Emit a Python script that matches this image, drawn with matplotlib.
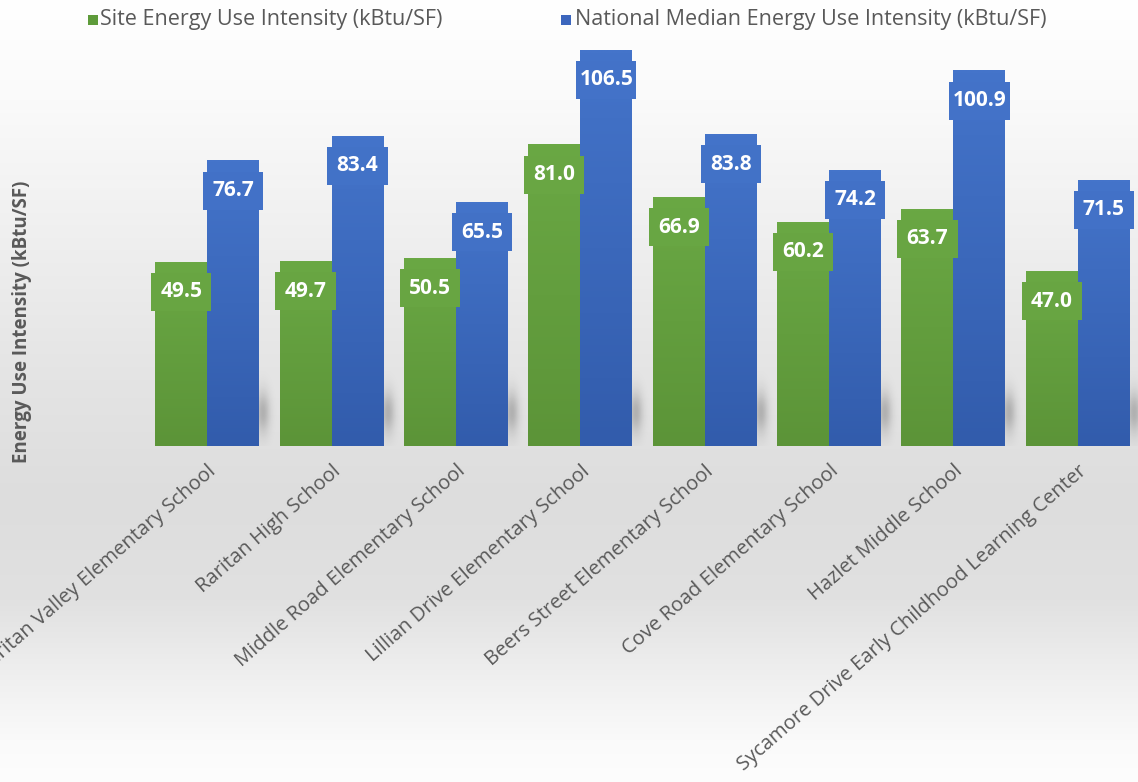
import numpy as np
import matplotlib
matplotlib.use("Agg")
from matplotlib import pyplot as plt
from matplotlib.patches import Rectangle
import matplotlib.transforms as mtransforms

schools = [
    "Raritan Valley Elementary School",
    "Raritan High School",
    "Middle Road Elementary School",
    "Lillian Drive Elementary School",
    "Beers Street Elementary School",
    "Cove Road Elementary School",
    "Hazlet Middle School",
    "Sycamore Drive Early Childhood Learning Center",
]
site_eui = [49.5, 49.7, 50.5, 81.0, 66.9, 60.2, 63.7, 47.0]
national_eui = [76.7, 83.4, 65.5, 106.5, 83.8, 74.2, 100.9, 71.5]

site_label = "Site Energy Use Intensity (kBtu/SF)"
national_label = "National Median Energy Use Intensity (kBtu/SF)"

GREEN_TOP, GREEN_BOT = np.array([106, 168, 68]), np.array([92, 148, 56])
BLUE_TOP, BLUE_BOT = np.array([68, 116, 202]), np.array([50, 92, 172])
TEXT_GRAY = "#595959"
FONT = "Open Sans"
W, H = 1138, 782


def gradient_fill(ax, bar, top_rgb, bot_rgb):
    """paints a vertical gradient over a bar"""
    x0, w, h = bar.get_x(), bar.get_width(), bar.get_height()
    t = np.linspace(0, 1, 64)[:, None]
    img = (top_rgb * (1 - t) + bot_rgb * t) / 255.0
    img = np.repeat(img[:, None, :], 2, axis=1)
    ax.imshow(img, extent=(x0, x0 + w, 0, h), aspect="auto", zorder=3,
              interpolation="bilinear")


def colour_at(frac, top_rgb, bot_rgb):
    """colour of the gradient at a fraction from the top"""
    return tuple((top_rgb * (1 - frac) + bot_rgb * frac) / 255.0)


def main():
    plt.rcParams["font.family"] = [FONT, "DejaVu Sans"]
    fig = plt.figure(figsize=(W / 100, H / 100), dpi=100)

    # background gradient
    bg = fig.add_axes([0, 0, 1, 1], zorder=-10)
    ys = np.arange(H)
    grey = np.interp(ys, [0, 100, 250, 380, 500, 600, 680, 740, 782],
                     [255, 250, 238, 228, 221, 225, 240, 250, 253])
    bg_img = np.repeat((grey / 255.0)[:, None], 4, axis=1)
    bg_img = np.stack([bg_img] * 3, axis=2)
    bg.imshow(bg_img, extent=(0, 1, 0, 1), aspect="auto",
              interpolation="bilinear")
    bg.set_axis_off()

    left, right = 145 / W, 1140 / W
    bottom = (H - 446) / H
    ax = fig.add_axes([left, bottom, right - left, 446 / H])
    ax.set_facecolor("none")

    x = np.arange(len(schools))
    bw = 0.418
    site_bars = ax.bar(x - bw / 2, site_eui, bw, color="#64a03c", zorder=2)
    nat_bars = ax.bar(x + bw / 2, national_eui, bw, color="#3f6cc0", zorder=2)

    # soft shadow falling off to the right of each group
    sx = np.linspace(0, 0.16, 60)
    sy = np.linspace(0, 20, 80)
    gx = np.exp(-0.5 * ((sx - 0.03) / 0.04) ** 2)
    gy = np.exp(-0.5 * ((sy - 9) / 4.0) ** 2)
    shadow = np.zeros((len(sy), len(sx), 4))
    shadow[..., 3] = gy[::-1, None] * gx[None, :] * 0.22
    for bar in nat_bars:
        x1 = bar.get_x() + bar.get_width()
        ax.imshow(shadow, extent=(x1, x1 + 0.16, 0, 20), aspect="auto",
                  zorder=1, interpolation="bilinear")

    box_h = 10.2
    offset = 8.0
    for bars, vals, top, bot in ((site_bars, site_eui, GREEN_TOP, GREEN_BOT),
                                 (nat_bars, national_eui, BLUE_TOP, BLUE_BOT)):
        for bar, v in zip(bars, vals):
            gradient_fill(ax, bar, top, bot)
            cy = v - offset
            col = colour_at(offset / v, top, bot)
            bx = bar.get_x() + bar.get_width() / 2
            bwid = bar.get_width() * 1.16
            ax.add_patch(Rectangle((bx - bwid / 2, cy - box_h / 2), bwid, box_h,
                                   facecolor=col, edgecolor="none", zorder=4))
            ax.text(bx, cy, f"{v:.1f}", ha="center", va="center",
                    color="white", fontsize=15, fontweight="bold", zorder=5)

    ax.set_xlim(-0.5, len(schools) - 0.5)
    ax.set_ylim(0, 120)

    ax.set_xticks(x)
    shift = mtransforms.ScaledTranslation(5 / 100, 0, fig.dpi_scale_trans)
    ax.set_xticklabels(schools, rotation=41, ha="right", va="top",
                       rotation_mode="anchor", fontsize=14.5, color=TEXT_GRAY)
    for lbl in ax.get_xticklabels():
        lbl.set_transform(lbl.get_transform() + shift)
    ax.tick_params(axis="x", length=0, pad=11)
    ax.set_yticks([])
    for s in ax.spines.values():
        s.set_visible(False)

    fig.text(22 / W, (H - 322) / H, "Energy Use Intensity (kBtu/SF)",
             rotation=90, ha="center", va="center", fontsize=13.5,
             fontweight="bold", color=TEXT_GRAY)

    # legend
    for sq_x, txt_x, label, col in ((88, 100, site_label, "#5e9b3a"),
                                    (561, 575, national_label, "#3c66bd")):
        fig.patches.append(Rectangle((sq_x / W, (H - 25) / H), 10 / W, 10 / H,
                                     transform=fig.transFigure,
                                     facecolor=col, edgecolor="none"))
        fig.text(txt_x / W, (H - 20) / H, label, ha="left", va="center",
                 fontsize=15.5, color=TEXT_GRAY)

    fig.savefig("out.png", dpi=100)


if __name__ == '__main__':
    main()
